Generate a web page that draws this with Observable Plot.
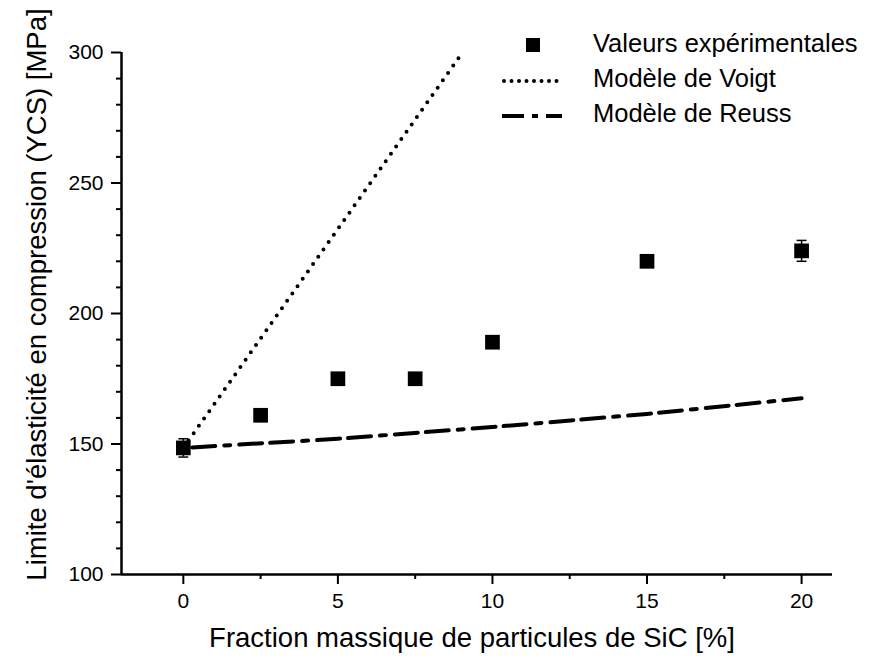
<!DOCTYPE html>
<html>
<head>
<meta charset="utf-8">
<script src="https://cdn.jsdelivr.net/npm/d3@7"></script>
<script src="https://cdn.jsdelivr.net/npm/@observablehq/plot@0.6"></script>
<style>
  body { margin: 0; background: #fff; }
</style>
</head>
<body>
<div id="chart"></div>
<script>
// Measured compressive yield strength vs. SiC mass fraction
const fraction = [0, 2.5, 5, 7.5, 10, 15, 20];
const ycs = [148.5, 161, 175, 175, 189, 220, 224];
const ycsErr = [3.5, 1.5, 1.5, 2, 1.5, 2, 4];

// Voigt (upper bound) model
const voigtX = [0, 9.03];
const voigtY = [148.5, 300];

// Reuss (lower bound) model
const reussX = [0, 5, 10, 15, 20];
const reussY = [148.5, 152, 156.5, 161.5, 167.5];

// Axis ticks
const xMajor = [0, 5, 10, 15, 20];
const xMinor = [2.5, 7.5, 12.5, 17.5];
const yMajor = [100, 150, 200, 250, 300];
const yMinor = d3.range(110, 300, 10).filter(v => v % 50 !== 0);

const xTitle = "Fraction massique de particules de SiC [%]";
const yTitle = "Limite d'élasticité en compression (YCS) [MPa]";

const legendLabels = ["Valeurs expérimentales", "Modèle de Voigt", "Modèle de Reuss"];

const points = fraction.map((x, i) => ({x, y: ycs[i], lo: ycs[i] - ycsErr[i], hi: ycs[i] + ycsErr[i]}));
const voigt = voigtX.map((x, i) => ({x, y: voigtY[i]}));
const reuss = reussX.map((x, i) => ({x, y: reussY[i]}));

// horizontal cap used at the ends of the error bars
const capSymbol = {
  draw(context, size) {
    const w = Math.sqrt(size) / 2;
    context.moveTo(-w, 0);
    context.lineTo(w, 0);
  }
};

const font = "'Liberation Sans', Arial, Helvetica, sans-serif";

const chart = Plot.plot({
  width: 874,
  height: 662,
  marginLeft: 121,
  marginRight: 42,
  marginTop: 52,
  marginBottom: 88,
  style: {fontFamily: font, fontSize: "21px", color: "#000", background: "#fff"},
  x: {domain: [-2, 21]},
  y: {domain: [100, 300]},
  marks: [
    Plot.axisX({ticks: xMajor, tickSize: 10, tickPadding: 9, strokeWidth: 2, fontSize: 21, label: null}),
    Plot.axisX({ticks: xMinor, tickSize: 5, strokeWidth: 2, tickFormat: () => "", label: null}),
    Plot.axisY({ticks: yMajor, tickSize: 10, tickPadding: 8, strokeWidth: 2, fontSize: 21, label: null}),
    Plot.axisY({ticks: yMinor, tickSize: 5, strokeWidth: 2, tickFormat: () => "", label: null}),
    Plot.ruleY([100], {strokeWidth: 2.5}),
    Plot.ruleX([-2], {strokeWidth: 2.5}),
    Plot.text([xTitle], {text: d => d, frameAnchor: "bottom", textAnchor: "middle", dx: -5, dy: 64, lineAnchor: "middle", fontSize: 27.5}),
    Plot.text([yTitle], {text: d => d, frameAnchor: "left", textAnchor: "middle", rotate: -90, dx: -84, dy: -19, lineAnchor: "middle", fontSize: 27.5}),
    Plot.line(voigt, {x: "x", y: "y", stroke: "#000", strokeWidth: 4, strokeDasharray: "0,9", strokeLinecap: "round"}),
    Plot.line(reuss, {x: "x", y: "y", stroke: "#000", strokeWidth: 4, strokeDasharray: "23,8,23,9,6,9", strokeDashoffset: 22}),
    Plot.ruleX(points, {x: "x", y1: "lo", y2: "hi", strokeWidth: 1.5}),
    Plot.dot(points, {x: "x", y: "lo", symbol: capSymbol, r: 5.6, stroke: "#000", strokeWidth: 1.5}),
    Plot.dot(points, {x: "x", y: "hi", symbol: capSymbol, r: 5.6, stroke: "#000", strokeWidth: 1.5}),
    Plot.dot(points, {x: "x", y: "y", symbol: "square", r: 8.3, fill: "#000", stroke: null})
  ]
});

// Legend in the top-right corner of the plot area
const svg = d3.select(chart);
const legend = svg.append("g")
  .attr("font-family", font)
  .attr("font-size", 25.5)
  .attr("text-anchor", "start")
  .attr("fill", "#000");
const rowY = [52, 87, 122];
legend.append("rect")
  .attr("x", 526).attr("y", rowY[0] - 7 - 7).attr("width", 14).attr("height", 14);
legend.append("line")
  .attr("x1", 504).attr("x2", 558).attr("y1", rowY[1] - 6).attr("y2", rowY[1] - 6)
  .attr("stroke", "#000").attr("stroke-width", 4)
  .attr("stroke-dasharray", "0,7.5").attr("stroke-linecap", "round");
legend.append("line")
  .attr("x1", 502).attr("x2", 562).attr("y1", rowY[2] - 6).attr("y2", rowY[2] - 6)
  .attr("stroke", "#000").attr("stroke-width", 4)
  .attr("stroke-dasharray", "22,8,6,8,22");
legend.selectAll("text.label")
  .data(legendLabels)
  .join("text")
  .attr("class", "label")
  .attr("text-anchor", "start")
  .attr("x", 593)
  .attr("y", (d, i) => rowY[i])
  .text(d => d);

document.getElementById("chart").appendChild(chart);
</script>
</body>
</html>
